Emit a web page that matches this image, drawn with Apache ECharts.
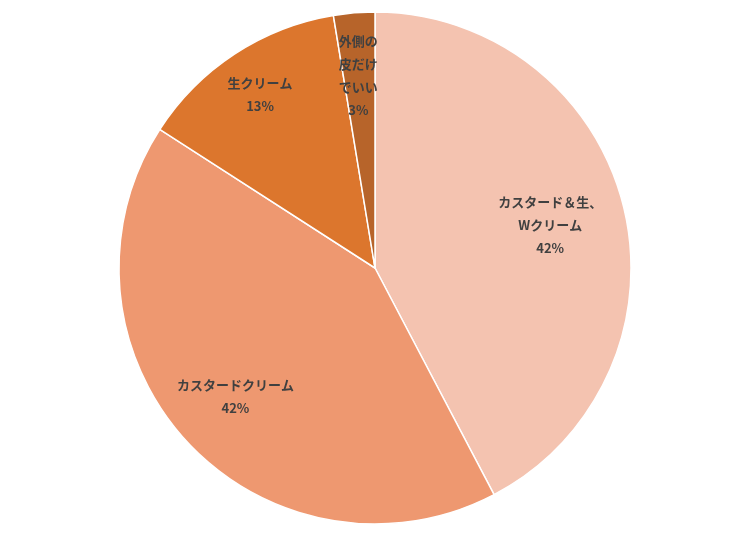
<!DOCTYPE html>
<html><head><meta charset="utf-8">
<script src="https://cdn.jsdelivr.net/npm/echarts@6/dist/echarts.min.js"></script>
<style>html,body{margin:0;padding:0;background:#fff}#c{width:750px;height:538px}</style>
</head><body><div id="c"></div>
<script>
const categories = ['カスタード＆生、\nWクリーム', 'カスタードクリーム', '生クリーム', '外側の\n皮だけ\nでいい'];
const values = [42.3, 41.8, 13.3, 2.6];
const colors = ['#F4C3B0', '#EE9870', '#DC762D', '#B7642A'];
const labelOffsets = [[48, -12], [-43, 40], [-43, -64], [-6, -62]];

const chart = echarts.init(document.getElementById('c'), null, {renderer: 'canvas'});
chart.setOption({
  animation: false,
  series: [{
    type: 'pie',
    center: [375, 268],
    radius: [0, 256],
    startAngle: 90,
    clockwise: true,
    percentPrecision: 0,
    itemStyle: {borderColor: '#ffffff', borderWidth: 1.5},
    label: {
      show: true,
      position: 'inside',
      formatter: '{b}\n{d}%',
      color: '#404040',
      fontFamily: 'Noto Sans CJK JP',
      fontWeight: 'bold',
      fontSize: 13,
      lineHeight: 23,
      align: 'center'
    },
    labelLine: {show: false},
    data: categories.map((n, i) => ({
      name: n,
      value: values[i],
      itemStyle: {color: colors[i]},
      label: {offset: labelOffsets[i]}
    }))
  }]
});
</script></body></html>
